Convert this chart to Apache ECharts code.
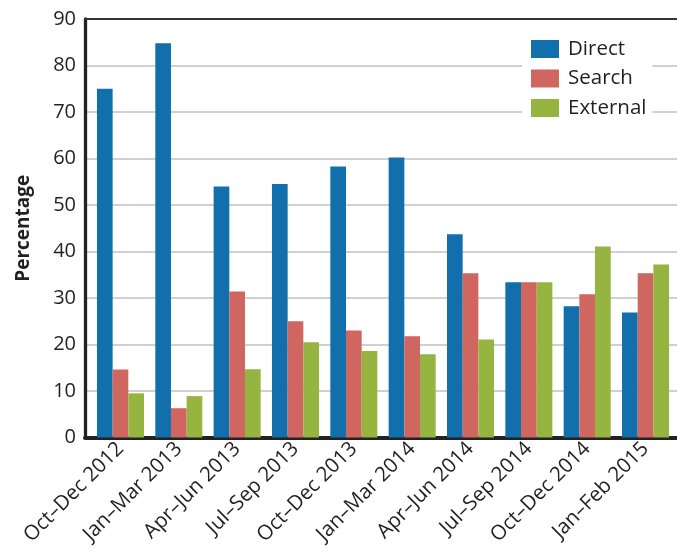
<!DOCTYPE html>
<html>
<head>
<meta charset="utf-8">
<script src="https://cdn.jsdelivr.net/npm/echarts@6/dist/echarts.min.js"></script>
<style>
html,body{margin:0;padding:0;background:#fff;}
#chart{width:677px;height:553px;}
</style>
</head>
<body>
<div id="chart"></div>
<script>
const categories = ['Oct–Dec 2012','Jan–Mar 2013','Apr–Jun 2013','Jul–Sep 2013','Oct–Dec 2013','Jan–Mar 2014','Apr–Jun 2014','Jul–Sep 2014','Oct–Dec 2014','Jan–Feb 2015'];
const direct   = [75.0, 84.8, 54.0, 54.5, 58.3, 60.2, 43.7, 33.4, 28.2, 26.9];
const search   = [14.6, 6.3, 31.4, 25.0, 23.0, 21.8, 35.3, 33.4, 30.8, 35.3];
const external = [9.5, 8.9, 14.7, 20.5, 18.6, 17.9, 21.1, 33.4, 41.1, 37.2];
const seriesNames = ['Direct','Search','External'];
const yTicks = {min:0, max:90, interval:10};

const FONT = '"Open Sans", "Noto Sans", sans-serif';
const TXT = '#231f20';
const colors = ['#116fab','#cf6660','#96b440'];

const chart = echarts.init(document.getElementById('chart'));
chart.setOption({
  animation:false,
  backgroundColor:'#fff',
  textStyle:{fontFamily:FONT, color:TXT},
  grid:[
    {left:85, right:0, top:19, bottom:115.5},
    {left:91.3, right:2.3, top:19, bottom:115.5}
  ],
  legend:{
    data:seriesNames,
    left:522, top:35.5,
    orient:'vertical',
    itemWidth:28, itemHeight:18, itemGap:8.5,
    backgroundColor:'#fff',
    padding:[3,6,3,9],
    icon:'rect',
    textStyle:{fontFamily:FONT, fontSize:20.5, color:TXT, padding:[0,0,0,4]}
  },
  xAxis:[
    {gridIndex:0, type:'value', min:0, max:1, position:'bottom',
     axisLine:{show:true, lineStyle:{color:'#222', width:4}},
     axisTick:{show:false}, axisLabel:{show:false}, splitLine:{show:false}},
    {gridIndex:0, type:'value', min:0, max:1, position:'top',
     axisLine:{show:true, lineStyle:{color:'#333', width:2}},
     axisTick:{show:false}, axisLabel:{show:false}, splitLine:{show:false}},
    {gridIndex:1, type:'category', data:categories,
     axisLine:{show:false}, axisTick:{show:false},
     axisLabel:{rotate:45, fontSize:20.5, color:TXT, fontFamily:FONT, margin:8, interval:0}}
  ],
  yAxis:[
    {gridIndex:0, type:'value', min:yTicks.min, max:yTicks.max, interval:yTicks.interval,
     name:'Percentage', nameLocation:'middle', nameGap:52,
     nameTextStyle:{fontSize:19, fontWeight:'bold', color:TXT, fontFamily:FONT},
     axisLine:{show:true, lineStyle:{color:'#222', width:3.3}},
     axisTick:{show:false},
     axisLabel:{fontSize:20, color:TXT, fontFamily:FONT, margin:9},
     splitLine:{show:true, lineStyle:{color:'#c0c0c0', width:1.6}}},
    {gridIndex:1, type:'value', min:yTicks.min, max:yTicks.max, interval:yTicks.interval,
     axisLine:{show:false}, axisTick:{show:false}, axisLabel:{show:false}, splitLine:{show:false}}
  ],
  series:[
    {name:seriesNames[0], type:'bar', xAxisIndex:2, yAxisIndex:1, data:direct, itemStyle:{color:colors[0]}, barGap:'0%', barCategoryGap:'19.4%'},
    {name:seriesNames[1], type:'bar', xAxisIndex:2, yAxisIndex:1, data:search, itemStyle:{color:colors[1]}, barGap:'0%', barCategoryGap:'19.4%'},
    {name:seriesNames[2], type:'bar', xAxisIndex:2, yAxisIndex:1, data:external, itemStyle:{color:colors[2]}, barGap:'0%', barCategoryGap:'19.4%'}
  ]
});
</script>
</body>
</html>
